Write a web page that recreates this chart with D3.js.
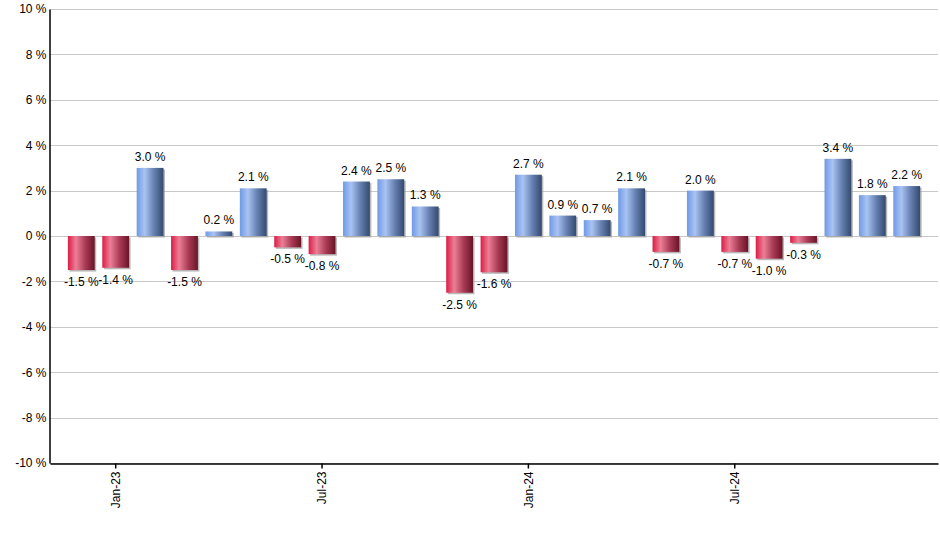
<!DOCTYPE html>
<html>
<head>
<meta charset="utf-8">
<script src="https://cdn.jsdelivr.net/npm/d3@7"></script>
<style>
  html, body { margin: 0; padding: 0; background: #fff; }
  svg { display: block; font-family: "Liberation Sans", Arial, sans-serif; }
</style>
</head>
<body>
<svg id="chart" width="940" height="550"></svg>
<script>
const months = ["Dec-22","Jan-23","Feb-23","Mar-23","Apr-23","May-23","Jun-23","Jul-23","Aug-23","Sep-23","Oct-23","Nov-23","Dec-23",
                "Jan-24","Feb-24","Mar-24","Apr-24","May-24","Jun-24","Jul-24","Aug-24","Sep-24","Oct-24","Nov-24","Dec-24"];
const values = [-1.5,-1.4,3.0,-1.5,0.2,2.1,-0.5,-0.8,2.4,2.5,1.3,-2.5,-1.6,2.7,0.9,0.7,2.1,-0.7,2.0,-0.7,-1.0,-0.3,3.4,1.8,2.2];
const xTickLabels = ["Jan-23","Jul-23","Jan-24","Jul-24"];
const yTicks = [-10,-8,-6,-4,-2,0,2,4,6,8,10];

const svg = d3.select("#chart");
const pLeft = 50, pRight = 938, pTop = 9, pBottom = 463;

const x = d3.scaleBand().domain(months).range([pLeft, pRight]).paddingInner(0.22).paddingOuter(0.52);
const y = d3.scaleLinear().domain([-10, 10]).range([pBottom, pTop]);

const defs = svg.append("defs");
function grad(id, stops) {
  const g = defs.append("linearGradient").attr("id", id).attr("x1", "0%").attr("x2", "100%").attr("y1", "0%").attr("y2", "0%");
  stops.forEach(s => g.append("stop").attr("offset", s[0]).attr("stop-color", s[1]));
}
grad("gBlue", [["0%", "#6f9ae6"], ["30%", "#a9c3f3"], ["65%", "#6580b0"], ["100%", "#33496f"]]);
grad("gRed", [["0%", "#dc1c46"], ["30%", "#ec7f96"], ["65%", "#a83a55"], ["100%", "#6a1426"]]);

// gridlines
svg.append("g").selectAll("line").data(yTicks).join("line")
  .attr("x1", pLeft).attr("x2", pRight)
  .attr("y1", d => Math.round(y(d)) + 0.5).attr("y2", d => Math.round(y(d)) + 0.5)
  .attr("stroke", "#c8c8c8").attr("stroke-width", 1);

// y axis
const yAxis = d3.axisLeft(y).tickValues(yTicks).tickSize(0).tickPadding(3).tickFormat(d => d + " %");
const gy = svg.append("g").attr("transform", `translate(${pLeft - 0.5},0)`).call(yAxis);
gy.select(".domain").attr("stroke", "#000").attr("stroke-width", 1.5);
gy.selectAll("text").attr("font-size", 12).attr("fill", "#000").attr("font-family", "Liberation Sans, Arial, sans-serif");

// shadows
const bars = svg.append("g");
bars.selectAll("rect.shadow").data(values).join("rect")
  .attr("class", "shadow")
  .attr("x", (d, i) => x(months[i]) + 1.5)
  .attr("y", d => Math.min(y(d), y(0)) + 1.5)
  .attr("width", x.bandwidth())
  .attr("height", d => Math.abs(y(d) - y(0)))
  .attr("fill", "#9a9a9a").attr("opacity", 0.7);

bars.selectAll("rect.bar").data(values).join("rect")
  .attr("class", "bar")
  .attr("x", (d, i) => x(months[i]))
  .attr("y", d => Math.min(y(d), y(0)))
  .attr("width", x.bandwidth())
  .attr("height", d => Math.abs(y(d) - y(0)))
  .attr("fill", d => d >= 0 ? "url(#gBlue)" : "url(#gRed)");

// labels
svg.append("g").selectAll("text").data(values).join("text")
  .attr("x", (d, i) => x(months[i]) + x.bandwidth() / 2)
  .attr("y", d => d >= 0 ? y(d) - 7 : y(d) + 16)
  .attr("text-anchor", "middle")
  .attr("font-size", 12)
  .attr("fill", "#000")
  .text(d => d.toFixed(1) + " %");

// x axis
const xAxis = d3.axisBottom(x).tickValues(xTickLabels).tickSize(5).tickSizeOuter(0).tickPadding(3);
const gx = svg.append("g").attr("transform", `translate(0,${pBottom + 0.5})`).call(xAxis);
gx.select(".domain").attr("stroke", "#000").attr("stroke-width", 1.5);
gx.selectAll(".tick line").attr("stroke", "#000").attr("stroke-width", 1.5);
gx.selectAll("text")
  .attr("font-size", 12).attr("fill", "#000").attr("font-family", "Liberation Sans, Arial, sans-serif")
  .attr("transform", "rotate(-90)")
  .attr("text-anchor", "end")
  .attr("dy", "0.35em")
  .attr("x", -8).attr("y", 0);
</script>
</body>
</html>
